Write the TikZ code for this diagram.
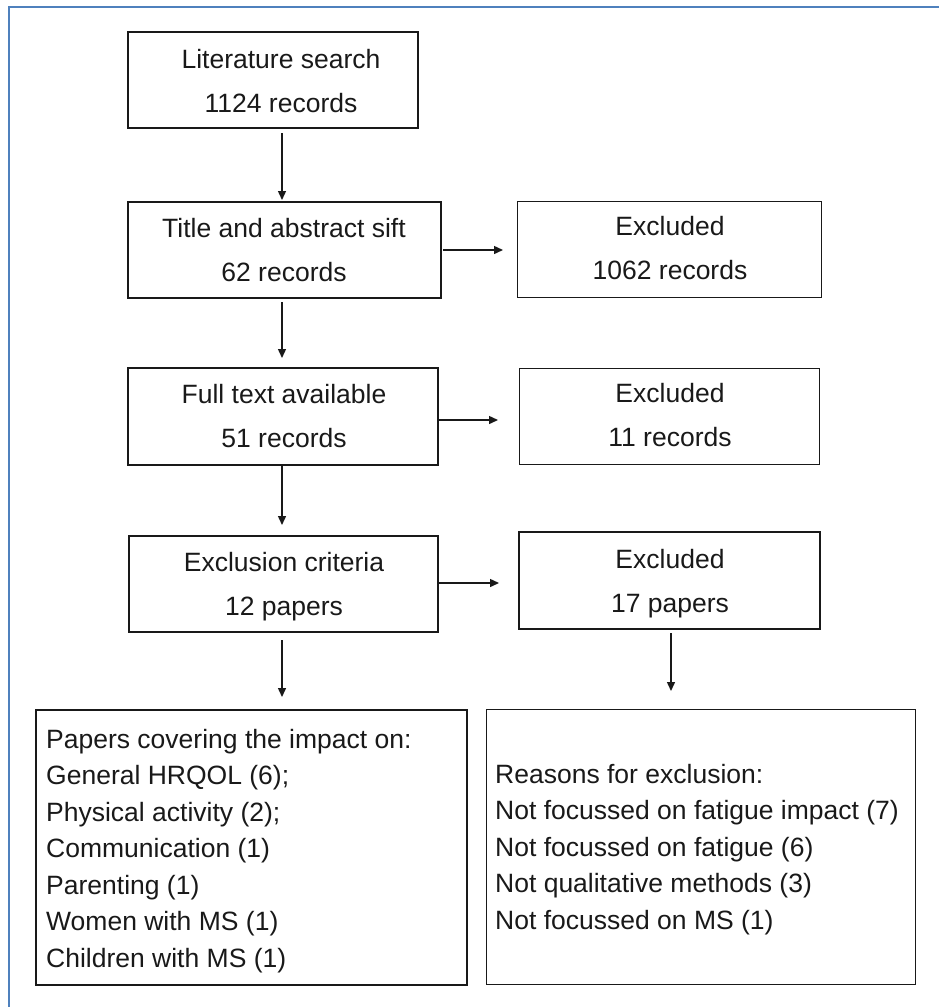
\documentclass[tikz,border=0pt]{standalone}
\usepackage{fontspec}
\setmainfont{Liberation Sans}
\usetikzlibrary{arrows.meta}
\definecolor{frameblue}{RGB}{79,129,189}
\definecolor{ink}{RGB}{25,25,25}
\begin{document}
\begin{tikzpicture}[x=1pt,y=-1pt,
  box/.style={draw=ink, line width=1.7pt, inner sep=0pt, outer sep=0pt, anchor=north west},
  thinbox/.style={box, line width=1pt},
  arr/.style={draw=ink, line width=1.4pt, -{Triangle[length=9pt,width=8pt]}},
  txt/.style={inner sep=0pt, align=center, text=ink, font=\fontsize{26.5}{44}\selectfont, anchor=north},
  list/.style={inner sep=0pt, align=left, text=ink, font=\fontsize{26.5}{36.5}\selectfont, anchor=north west}]
\useasboundingbox (0,0) rectangle (938,1007);
% outer frame (only left and top edges visible)
\draw[frameblue, line width=2pt] (9,1010) -- (9,7) -- (941,7);

% boxes
\node[box, minimum width=290pt, minimum height=96pt] (b1) at (128,32) {};
\node[box, minimum width=313pt, minimum height=96pt] (b2) at (128,202) {};
\node[thinbox, minimum width=304pt, minimum height=96pt] (e1) at (517,201) {};
\node[box, minimum width=310pt, minimum height=97pt] (b3) at (128,368) {};
\node[thinbox, minimum width=300pt, minimum height=96pt] (e2) at (519,368) {};
\node[thinbox, line width=1.3pt, minimum width=309pt, minimum height=96pt] (b4) at (129,536) {};
\node[box, minimum width=301pt, minimum height=97pt] (e3) at (519,532) {};
\node[box, minimum width=431pt, minimum height=275pt] (r1) at (36,710) {};
\node[thinbox, minimum width=429pt, minimum height=275pt] (r2) at (486,709) {};

% texts
\node[txt] (t1) at (281,42) {\rule{0pt}{26pt}Literature search\\1124 records};
\node[txt] (t2) at (284,211) {\rule{0pt}{26pt}Title and abstract sift\\62 records};
\node[txt] (t3) at (670,209) {\rule{0pt}{26pt}Excluded\\1062 records};
\node[txt] (t4) at (284,377) {\rule{0pt}{26pt}Full text available\\51 records};
\node[txt] (t5) at (670,376) {\rule{0pt}{26pt}Excluded\\11 records};
\node[txt] (t6) at (284,545) {\rule{0pt}{26pt}Exclusion criteria\\12 papers};
\node[txt] (t7) at (670,542) {\rule{0pt}{26pt}Excluded\\17 papers};
\node[list] (t8) at (46,722) {\rule{0pt}{26pt}Papers covering the impact on:\\General HRQOL (6);\\Physical activity (2);\\Communication (1)\\Parenting (1)\\Women with MS (1)\\Children with MS (1)};
\node[list] (t9) at (495,757) {\rule{0pt}{26pt}Reasons for exclusion:\\Not focussed on fatigue impact (7)\\Not focussed on fatigue (6)\\Not qualitative methods (3)\\Not focussed on MS (1)};

% connectors
\coordinate (cl) at (282,0);
\coordinate (cr) at (671,0);
\draw[arr, shorten <=5pt, shorten >=2pt] (b1.south -| cl) -- (b2.north -| cl);
\draw[arr, shorten <=2pt, shorten >=14pt] (b2.east) -- (e1.west |- b2.east);
\draw[arr, shorten <=4pt, shorten >=10pt] (b2.south -| cl) -- (b3.north -| cl);
\draw[arr, shorten <=0pt, shorten >=21pt] ([yshift=-3.5pt]b3.east) -- ([yshift=-3.5pt]b3.east -| e2.west);
\draw[arr, shorten <=0pt, shorten >=11pt] (b3.south -| cl) -- (b4.north -| cl);
\draw[arr, shorten <=0pt, shorten >=20pt] ([yshift=1pt]b4.east) -- ([yshift=1pt]b4.east -| e3.west);
\draw[arr, shorten <=8pt, shorten >=13pt] (b4.south -| cl) -- (r1.north -| cl);
\draw[arr, shorten <=4pt, shorten >=18pt] (e3.south -| cr) -- (r2.north -| cr);
\end{tikzpicture}
\end{document}
